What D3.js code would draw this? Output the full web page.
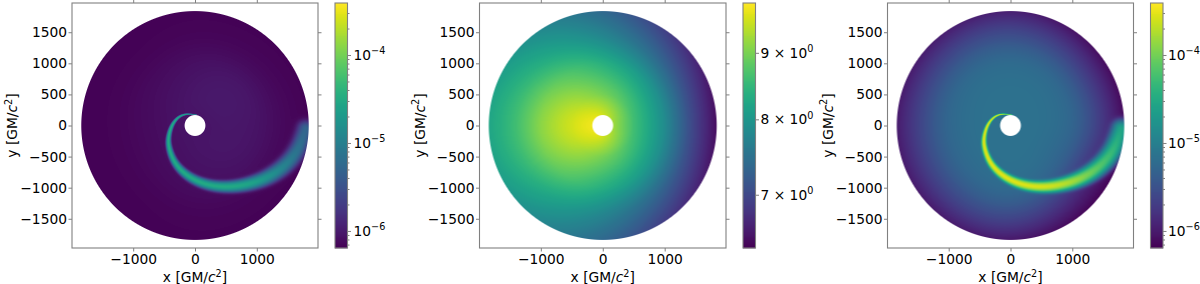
<!DOCTYPE html>
<html>
<head>
<meta charset="utf-8">
<script src="https://cdn.jsdelivr.net/npm/d3@7"></script>
<style>
  html, body { margin: 0; padding: 0; background: #fff; }
  svg { display: block; }
  text { font-family: "DejaVu Sans", sans-serif; fill: #000; }
</style>
</head>
<body>
<svg id="chart" width="1200" height="284"></svg>
<script>
// data
const xyTicks = [-1500, -1000, -500, 0, 500, 1000, 1500]
const xTicks = [-1000, 0, 1000]
const xLabel = 'x [GM/', yLabel = 'y [GM/'
const diskOuter = 1840, diskInner = 168

// polar grid of the smooth background of each disk
const gridRadii = [168, 500, 1000, 1400, 1840]
const gridAngles = [0, 30, 60, 90, 120, 150, 180, 210, 240, 270, 300, 330] // degrees, one column each

const base1 = [
  [8.9e-7, 8.9e-7, 8.9e-7, 8.9e-7, 8.9e-7, 8.9e-7, 8.9e-7, 8.9e-7, 8.9e-7, 8.9e-7, 8.9e-7, 8.9e-7],
  [9.5e-7, 1.01e-6, 1.01e-6, 9.5e-7, 8.9e-7, 8.35e-7, 8.08e-7, 8.08e-7, 8.35e-7, 8.9e-7, 9.2e-7, 9.5e-7],
  [8.9e-7, 9.5e-7, 9.2e-7, 8.35e-7, 7.6e-7, 7.34e-7, 7.1e-7, 7.1e-7, 7.34e-7, 7.83e-7, 8.35e-7, 8.9e-7],
  [7.34e-7, 7.1e-7, 6.88e-7, 6.88e-7, 6.66e-7, 6.66e-7, 6.66e-7, 6.66e-7, 6.66e-7, 6.88e-7, 6.88e-7, 6.88e-7],
  [6.66e-7, 6.66e-7, 6.66e-7, 6.66e-7, 6.66e-7, 6.66e-7, 6.66e-7, 6.66e-7, 6.66e-7, 6.66e-7, 6.66e-7, 6.66e-7]
]
const base2 = [
  [9.2, 9.28, 9.41, 9.54, 9.66, 9.71, 9.75, 9.71, 9.66, 9.54, 9.41, 9.28],
  [8.62, 8.7, 8.85, 9.0, 9.2, 9.5, 9.62, 9.5, 9.2, 9.0, 8.85, 8.7],
  [7.84, 7.91, 8.12, 8.37, 8.7, 9.0, 9.2, 9.0, 8.7, 8.33, 8.12, 7.91],
  [7.0, 7.12, 7.43, 7.8, 8.16, 8.5, 8.62, 8.5, 8.12, 7.77, 7.4, 7.12],
  [6.4, 6.58, 6.94, 7.37, 7.77, 8.14, 8.26, 8.14, 7.73, 7.4, 6.9, 6.58]
]
const base3 = [
  [6.9e-6, 6.9e-6, 6.9e-6, 6.9e-6, 6.9e-6, 6.9e-6, 6.9e-6, 6.9e-6, 6.9e-6, 6.9e-6, 6.9e-6, 6.9e-6],
  [6.9e-6, 6.9e-6, 6.9e-6, 6.9e-6, 6.9e-6, 6.9e-6, 6.9e-6, 6.9e-6, 6.9e-6, 6.9e-6, 6.9e-6, 6.9e-6],
  [5.7e-6, 6.07e-6, 6.47e-6, 6.47e-6, 6.47e-6, 6.07e-6, 5.7e-6, 5.7e-6, 6.07e-6, 6.47e-6, 6.07e-6, 5.0e-6],
  [2.6e-6, 2.3e-6, 3.0e-6, 3.6e-6, 3.4e-6, 3.0e-6, 2.8e-6, 2.8e-6, 3.2e-6, 3.4e-6, 2.3e-6, 1.3e-6],
  [7.83e-7, 7.34e-7, 8.9e-7, 1.15e-6, 1.08e-6, 1.01e-6, 1.01e-6, 1.01e-6, 1.01e-6, 1.01e-6, 7.34e-7, 6.46e-7]
]

// the stream: centre line, half thickness and peak level along it
const streamX = [27, -135, -270, -378, -432, -432, -351, -189, 27, 297, 622, 946, 1216, 1486, 1690, 1790]
const streamY = [171, 193, 145, 11, -177, -338, -579, -766, -900, -981, -991, -927, -820, -632, -370, -60]
const streamSigma = [4, 6, 9, 13, 17, 20, 24, 29, 33, 37, 41, 48, 56, 64, 70, 72]
const streamPeak1 = [6.1e-6, 2.2e-5, 2.65e-5, 3e-5, 3e-5, 3e-5, 3e-5, 3e-5, 3e-5, 3e-5, 3e-5, 2.5e-5, 1.6e-5, 9.6e-6, 6.1e-6, 4.4e-6]
const streamPeak3 = [5.6e-5, 2.06e-4, 2.5e-4, 2.8e-4, 2.8e-4, 2.8e-4, 2.8e-4, 2.8e-4, 2.8e-4, 2.65e-4, 2.5e-4, 1.8e-4, 1.08e-4, 6.4e-5, 4.3e-5, 2.65e-5]

// colour bar ranges and ticks
const range1 = [6.4e-7, 3.9e-4]
const range2 = [6.37, 9.83]
const range3 = [6.4e-7, 3.9e-4]
const decadeTicks = [1e-6, 1e-5, 1e-4]
const decadeLabels = [['10', '\u22126'], ['10', '\u22125'], ['10', '\u22124']]
const decadeMinor = [7e-7, 8e-7, 9e-7, 2e-6, 3e-6, 4e-6, 5e-6, 6e-6, 7e-6, 8e-6, 9e-6,
  2e-5, 3e-5, 4e-5, 5e-5, 6e-5, 7e-5, 8e-5, 9e-5, 2e-4, 3e-4]
const linearTicks = [7, 8, 9]
const linearLabels = [['7 \u00d7 10', '0'], ['8 \u00d7 10', '0'], ['9 \u00d7 10', '0']]

const fontSize = 13.8
const spine = '#808080'
const axTop = 3, axBottom = 248, xHalf = 1990, yHalf = 1970
const svg = d3.select('#chart')

function superText(sel, parts) {
  sel.text(parts[0])
  sel.append('tspan').attr('dy', -5.5).attr('font-size', fontSize * 0.7).text(parts[1])
}

// smooth lookup in the polar grid, done in log space
function baseField(grid) {
  const rows = grid.map(r => d3.interpolateBasisClosed(r.map(Math.log10)))
  const rScale = d3.scaleLinear().domain(gridRadii).range([0, 0.25, 0.5, 0.75, 1]).clamp(true)
  return function (r, a) {
    const u = a / (2 * Math.PI)
    return Math.pow(10, d3.interpolateBasis(rows.map(f => f(u)))(rScale(r)))
  }
}

function streamSamples(peak) {
  const fx = d3.interpolateBasis(streamX), fy = d3.interpolateBasis(streamY)
  const fs = d3.interpolateBasis(streamSigma), fp = d3.interpolateBasis(peak.map(Math.log10))
  return d3.range(0, 1.0001, 1 / 400).map(t => [fx(t), fy(t), fs(t), Math.pow(10, fp(t))])
}

function drawPanel(p) {
  const g = svg.append('g')
  const x = d3.scaleLinear().domain([-xHalf, xHalf]).range([p.left, p.right])
  const y = d3.scaleLinear().domain([-yHalf, yHalf]).range([axBottom, axTop])
  const color = d3.scaleSequentialLog(d3.interpolateViridis).domain(p.range).clamp(true)

  // raster of the disk
  const w = Math.round(p.right - p.left), h = axBottom - axTop
  const canvas = document.createElement('canvas')
  canvas.width = w; canvas.height = h
  const ctx = canvas.getContext('2d')
  const img = ctx.createImageData(w, h)
  const field = baseField(p.base)
  const samples = p.peak ? streamSamples(p.peak) : null
  for (let j = 0; j < h; j++) {
    for (let i = 0; i < w; i++) {
      const dx = x.invert(p.left + i + 0.5), dy = y.invert(axTop + j + 0.5)
      const r = Math.hypot(dx, dy)
      if (r > diskOuter + 20 || r < diskInner - 20) continue
      let a = Math.atan2(dy, dx)
      if (a < 0) a += 2 * Math.PI
      let v = field(r, a)
      if (samples) {
        let best = Infinity, bs = null
        for (const s of samples) {
          const d = (s[0] - dx) * (s[0] - dx) + (s[1] - dy) * (s[1] - dy)
          if (d < best) { best = d; bs = s }
        }
        v += bs[3] * Math.exp(-best / (2 * bs[2] * bs[2]))
      }
      const c = d3.rgb(color(v))
      const alpha = Math.min(1, Math.max(0, (diskOuter - r) / 16 + 0.5), Math.max(0, (r - diskInner) / 16 + 0.5))
      const k = (j * w + i) * 4
      img.data[k] = c.r; img.data[k + 1] = c.g; img.data[k + 2] = c.b
      img.data[k + 3] = Math.round(alpha * 255)
    }
  }
  ctx.putImageData(img, 0, 0)
  g.append('image').attr('x', p.left).attr('y', axTop).attr('width', w).attr('height', h)
    .attr('href', canvas.toDataURL())

  // axes on all four sides
  const styleAxis = s => {
    s.selectAll('.domain').remove()
    s.selectAll('line').attr('stroke', spine)
    s.selectAll('text').attr('font-size', fontSize).attr('font-family', '"DejaVu Sans"').attr('fill', '#000')
  }
  const fmt = d => String(d).replace('-', '\u2212')
  g.append('g').attr('transform', `translate(0,${axBottom})`)
    .call(d3.axisBottom(x).tickValues(xTicks).tickSize(3.5).tickPadding(3).tickFormat(fmt)).call(styleAxis)
  g.append('g').attr('transform', `translate(0,${axTop})`)
    .call(d3.axisTop(x).tickValues(xTicks).tickSize(3.5).tickFormat('')).call(styleAxis)
  g.append('g').attr('transform', `translate(${p.left},0)`)
    .call(d3.axisLeft(y).tickValues(xyTicks).tickSize(3.5).tickPadding(1.5).tickFormat(fmt)).call(styleAxis)
  g.append('g').attr('transform', `translate(${p.right},0)`)
    .call(d3.axisRight(y).tickValues(xyTicks).tickSize(3.5).tickFormat('')).call(styleAxis)
  g.append('rect').attr('x', p.left).attr('y', axTop).attr('width', p.right - p.left).attr('height', axBottom - axTop)
    .attr('fill', 'none').attr('stroke', spine).attr('stroke-width', 1.1)

  // axis titles
  const xt = g.append('text').attr('x', (p.left + p.right) / 2).attr('y', 282)
    .attr('text-anchor', 'middle').attr('font-size', fontSize)
  xt.append('tspan').text(xLabel)
  xt.append('tspan').attr('font-style', 'italic').text('c')
  xt.append('tspan').attr('dy', -5.5).attr('font-size', fontSize * 0.7).text('2')
  xt.append('tspan').attr('dy', 5.5).text(']')
  const yt = g.append('text').attr('transform', `translate(${p.left - 55},${(axTop + axBottom) / 2}) rotate(-90)`)
    .attr('text-anchor', 'middle').attr('font-size', fontSize)
  yt.append('tspan').text(yLabel)
  yt.append('tspan').attr('font-style', 'italic').text('c')
  yt.append('tspan').attr('dy', -5.5).attr('font-size', fontSize * 0.7).text('2')
  yt.append('tspan').attr('dy', 5.5).text(']')

  // colour bar
  const cb = d3.scaleLog().domain(p.range).range([axBottom, axTop])
  g.append('g').selectAll('rect').data(d3.range(axTop, axBottom)).join('rect')
    .attr('x', p.barLeft).attr('y', d => d).attr('width', p.barRight - p.barLeft).attr('height', 1.3)
    .attr('fill', d => color(cb.invert(d + 0.5)))
  g.append('rect').attr('x', p.barLeft).attr('y', axTop).attr('width', p.barRight - p.barLeft).attr('height', axBottom - axTop)
    .attr('fill', 'none').attr('stroke', spine).attr('stroke-width', 1.1)
  const major = g.append('g').attr('transform', `translate(${p.barRight},0)`)
    .call(d3.axisRight(cb).tickValues(p.ticks).tickSize(3.5).tickPadding(p.pad).tickFormat(''))
    .call(styleAxis)
  major.selectAll('.tick text').each(function (d, i) { superText(d3.select(this), p.labels[i]) })
  if (p.minor.length) {
    g.append('g').attr('transform', `translate(${p.barRight},0)`)
      .call(d3.axisRight(cb).tickValues(p.minor).tickSize(2).tickFormat('')).call(styleAxis)
  }
}

drawPanel({ left: 72, right: 318, barLeft: 335, barRight: 347.5, range: range1, base: base1, peak: streamPeak1, ticks: decadeTicks, labels: decadeLabels, minor: decadeMinor, pad: 2.5 })
drawPanel({ left: 479.5, right: 726, barLeft: 743, barRight: 755.5, range: range2, base: base2, peak: null, ticks: linearTicks, labels: linearLabels, minor: [], pad: 1.5 })
drawPanel({ left: 887.5, right: 1133.5, barLeft: 1150.5, barRight: 1163, range: range3, base: base3, peak: streamPeak3, ticks: decadeTicks, labels: decadeLabels, minor: decadeMinor, pad: 1.5 })
</script>
</body>
</html>
